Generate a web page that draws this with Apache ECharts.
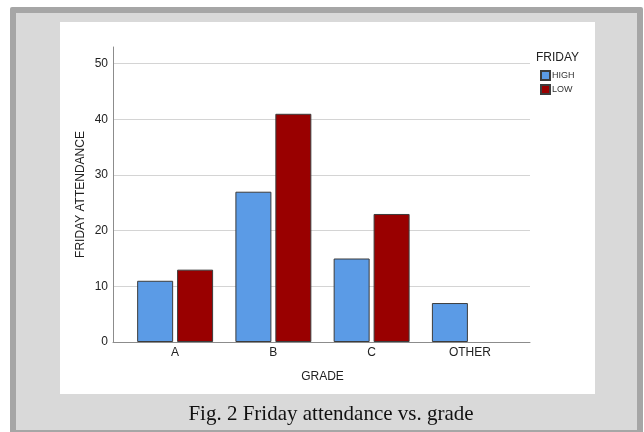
<!DOCTYPE html>
<html lang="en">
<head>
    <meta charset="UTF-8">
    <title>Friday attendance vs. grade</title>
    <script src="https://cdn.jsdelivr.net/npm/echarts@6/dist/echarts.min.js"></script>
    <style>
        html, body { margin: 0; padding: 0; background: #fff; }
    </style>
</head>
<body>

<div id="main" style="width: 644px;height:432px;"></div>

<script type="text/javascript">
    var grades = ['A', 'B', 'C', 'OTHER'];
    var highValues = [11, 27, 15, 7];
    var lowValues = [13, 41, 23, null];
    var seriesNames = ['HIGH', 'LOW'];
    var yTicks = [0, 10, 20, 30, 40, 50];

    var myChart = echarts.init(document.getElementById('main'));

    var font = 'Liberation Sans, Arial, sans-serif';

    option = {
        animation: false,
        backgroundColor: '#fff',
        textStyle: { fontFamily: font },
        title: {
            text: 'Fig. 2 Friday attendance vs. grade',
            left: 326,
            top: 399,
            textAlign: 'center',
            textStyle: {
                fontFamily: 'Liberation Serif, Times New Roman, serif',
                fontSize: 21,
                fontWeight: 'normal',
                color: '#111'
            }
        },
        graphic: [
            // frame
            { type: 'rect', z: -10, shape: { x: 10, y: 7, width: 633, height: 430, r: 2 }, style: { fill: '#a6a6a6' } },
            { type: 'rect', z: -9, shape: { x: 16, y: 13, width: 621, height: 417 }, style: { fill: '#d9d9d9' } },
            { type: 'rect', z: -8, shape: { x: 60, y: 22, width: 535, height: 372 }, style: { fill: '#fff' } },
            {
                type: 'text', left: 536, top: 52, z: 10,
                style: { text: 'FRIDAY', font: '12px ' + font, fill: '#222' }
            }
        ],
        legend: {
            orient: 'vertical',
            left: 540,
            top: 70,
            icon: 'rect',
            itemWidth: 9,
            itemHeight: 9,
            itemGap: 3,
            padding: 0,
            data: seriesNames,
            textStyle: { fontSize: 9, color: '#333', padding: [0, 0, 0, -3] }
        },
        grid: [
            { left: 113, right: 114, top: 47, height: 295, containLabel: false },
            { left: 126, right: 125, top: 47, height: 295, containLabel: false }
        ],
        xAxis: [{
            gridIndex: 0,
            type: 'category',
            data: grades,
            axisLine: { lineStyle: { color: '#8c8c8c', width: 1 } },
            axisTick: { show: false },
            axisLabel: { show: false },
            splitLine: { show: false }
        }, {
            gridIndex: 1,
            type: 'category',
            data: grades,
            name: 'GRADE',
            nameLocation: 'middle',
            nameGap: 29,
            nameMoveOverlap: false,
            nameTextStyle: { fontSize: 12, color: '#222' },
            axisLine: { show: false },
            axisTick: { show: false },
            axisLabel: { fontSize: 12, color: '#222', margin: 5 },
            splitLine: { show: false }
        }],
        yAxis: [{
            gridIndex: 0,
            type: 'value',
            min: yTicks[0],
            max: 53,
            interval: 10,
            name: 'FRIDAY ATTENDANCE',
            nameLocation: 'middle',
            nameGap: 26,
            nameMoveOverlap: false,
            nameTextStyle: { fontSize: 12, color: '#222' },
            axisLine: { show: true, lineStyle: { color: '#8c8c8c', width: 1 } },
            axisTick: { show: false },
            axisLabel: {
                fontSize: 12, color: '#222', margin: 5,
                showMaxLabel: false,
                formatter: function (v) { return yTicks.indexOf(v) >= 0 ? v : ''; }
            },
            splitLine: { showMaxLine: false, lineStyle: { color: '#d4d4d4', width: 1 } }
        }, {
            gridIndex: 1,
            type: 'value',
            min: 0,
            max: 53,
            show: false,
            splitLine: { show: false }
        }],
        series: [{
            name: seriesNames[0],
            type: 'bar',
            xAxisIndex: 1,
            yAxisIndex: 1,
            data: highValues,
            barWidth: 36,
            barGap: '11%',
            itemStyle: { color: '#5b9be6', borderColor: '#3c3c3c', borderWidth: 1 }
        }, {
            name: seriesNames[1],
            type: 'bar',
            xAxisIndex: 1,
            yAxisIndex: 1,
            data: lowValues,
            barWidth: 36,
            barGap: '11%',
            itemStyle: { color: '#990000', borderColor: '#3c3c3c', borderWidth: 1 }
        }]
    };

    myChart.setOption(option);
</script>
</body>
</html>
